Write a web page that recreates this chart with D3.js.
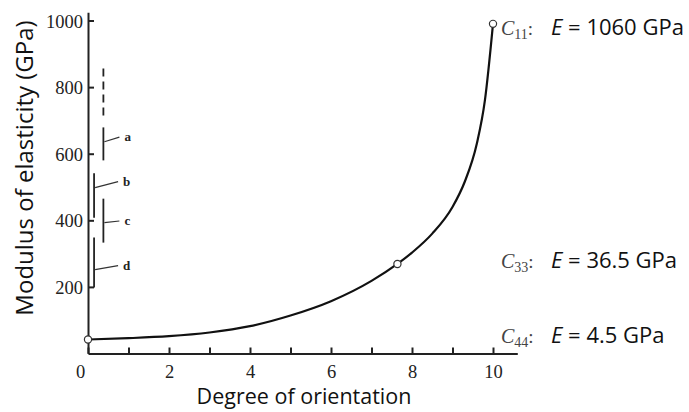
<!DOCTYPE html>
<html>
<head>
<meta charset="utf-8">
<script src="https://cdn.jsdelivr.net/npm/d3@7/dist/d3.min.js"></script>
<style>
  body { margin: 0; background: #fff; }
  .axis path, .axis line { stroke: #222; stroke-width: 2; }
  .axis text { font-family: "Liberation Serif", "DejaVu Serif", serif; font-size: 18.5px; fill: #222; }
  .ax-title { font-family: "Open Sans", sans-serif; fill: #111; }
  .elab { font-family: "Open Sans", sans-serif; font-size: 22px; fill: #111; }
  .clab { font-family: "Liberation Serif", serif; fill: #444; }
  .range-lab { font-family: "Liberation Serif", serif; font-weight: bold; font-size: 13px; fill: #222; }
</style>
</head>
<body>
<div id="chart"></div>
<script>
// curva modulo elastico vs grado di orientazione
const orientX  = [0, 1, 2, 3, 4, 5, 6, 7, 7.64, 8, 8.5, 9, 9.3, 9.6, 9.8, 10];
const modulusY = [42, 46, 52, 63, 82, 114, 157, 218, 269, 303, 360, 440, 515, 630, 760, 990];

// punti marcati (cerchi vuoti)
const markX = [0, 7.64, 10];
const markY = [42, 269, 990];

// intervalli a-d vicino all'asse y
const rangeNames = ['a', 'b', 'c', 'd'];
const rangeX     = [0.38, 0.15, 0.38, 0.15];
const rangeLo    = [580, 408, 333, 198];
const rangeHi    = [679, 541, 465, 348];
const rangeLead  = [636, 498, 393, 252];   // dove parte la linea guida
const rangeLabY  = [650, 516, 398, 264];   // altezza etichetta

// tratteggio sopra "a"
const dashLo = 700, dashHi = 856;

// etichette costanti elastiche
const constNames = ['11', '33', '44'];
const constE     = ['1060', '36.5', '4.5'];

const xTicks = [0, 1, 2, 3, 4, 5, 6, 7, 8, 9, 10];
const xTickLabels = [0, 2, 4, 6, 8, 10];
const yTicks = [200, 400, 600, 800, 1000];

const W = 689, H = 412;
const svg = d3.select('#chart').append('svg')
  .attr('width', W).attr('height', H);

const x = d3.scaleLinear().domain([0, 10.6]).range([88, 517.3]);
const y = d3.scaleLinear().domain([0, 1025]).range([353.5, 12.2]);

// assi
svg.append('g')
  .attr('class', 'axis')
  .attr('transform', `translate(0,${y(0)})`)
  .call(d3.axisBottom(x).tickValues(xTicks).tickSize(-6).tickSizeOuter(0).tickPadding(11)
    .tickFormat(d => xTickLabels.includes(d) ? d : ''))
  .call(g => g.selectAll('.tick text').filter(d => d === 0).attr('dx', -8));

svg.append('g')
  .attr('class', 'axis')
  .attr('transform', `translate(${x(0)},0)`)
  .call(d3.axisLeft(y).tickValues(yTicks).tickSize(-6).tickSizeOuter(0).tickPadding(5)
    .tickFormat(d => String(d)))
  .call(g => g.selectAll('.tick text').attr('dy', '0.36em'));

// titoli assi
svg.append('text')
  .attr('class', 'ax-title')
  .attr('font-size', 21.5)
  .attr('x', 304).attr('y', 404)
  .attr('text-anchor', 'middle')
  .text('Degree of orientation');

svg.append('text')
  .attr('class', 'ax-title')
  .attr('font-size', 24)
  .attr('transform', 'translate(33,168) rotate(-90)')
  .attr('text-anchor', 'middle')
  .text('Modulus of elasticity (GPa)');

// curva
const pts = orientX.map((d, i) => [d, modulusY[i]]);
svg.append('path')
  .datum(pts)
  .attr('fill', 'none')
  .attr('stroke', '#111')
  .attr('stroke-width', 2.2)
  .attr('d', d3.line().x(d => x(d[0])).y(d => y(d[1])).curve(d3.curveMonotoneX));

svg.selectAll('.mark')
  .data(markX.map((d, i) => [d, markY[i]]))
  .enter()
  .append('circle')
  .attr('cx', d => x(d[0]))
  .attr('cy', d => y(d[1]))
  .attr('r', 3.6)
  .attr('fill', '#fff')
  .attr('stroke', '#333')
  .attr('stroke-width', 1.2);

// intervalli a-d
svg.append('line')
  .attr('x1', x(0.38)).attr('x2', x(0.38))
  .attr('y1', y(dashHi)).attr('y2', y(dashLo))
  .attr('stroke', '#222').attr('stroke-width', 1.8)
  .attr('stroke-dasharray', '8,5');

const rg = svg.selectAll('.range')
  .data(rangeNames.map((n, i) => ({ n, x: rangeX[i], lo: rangeLo[i], hi: rangeHi[i], lead: rangeLead[i], lab: rangeLabY[i] })))
  .enter().append('g');

rg.append('line')
  .attr('x1', d => x(d.x)).attr('x2', d => x(d.x))
  .attr('y1', d => y(d.hi)).attr('y2', d => y(d.lo))
  .attr('stroke', '#222').attr('stroke-width', 1.8);

rg.append('line')
  .attr('x1', d => x(d.x) + 1).attr('x2', d => x(d.x) + 24 - (d.x > 0.3 ? 8 : 0))
  .attr('y1', d => y(d.lead)).attr('y2', d => y(d.lab))
  .attr('stroke', '#333').attr('stroke-width', 1.2);

rg.append('text')
  .attr('class', 'range-lab')
  .attr('x', d => x(d.x) + 29 - (d.x > 0.3 ? 8 : 0))
  .attr('y', d => y(d.lab))
  .attr('dy', '0.32em')
  .text(d => d.n);

// etichette C_ij: E = ...
const labY = [35, 268, 343];
constNames.forEach((c, i) => {
  const t = svg.append('text').attr('class', 'clab')
    .attr('x', 501).attr('y', labY[i]);
  t.append('tspan').attr('font-style', 'italic').attr('font-size', 20).text('C');
  t.append('tspan').attr('font-size', 14).attr('dy', 4).text(c);
  t.append('tspan').attr('font-size', 19).attr('dy', -4).text(':');

  const e = svg.append('text').attr('class', 'elab')
    .attr('x', 551).attr('y', labY[i]);
  e.append('tspan').attr('font-style', 'italic').text('E');
  e.append('tspan').text(` = ${constE[i]} GPa`);
});
</script>
</body>
</html>
